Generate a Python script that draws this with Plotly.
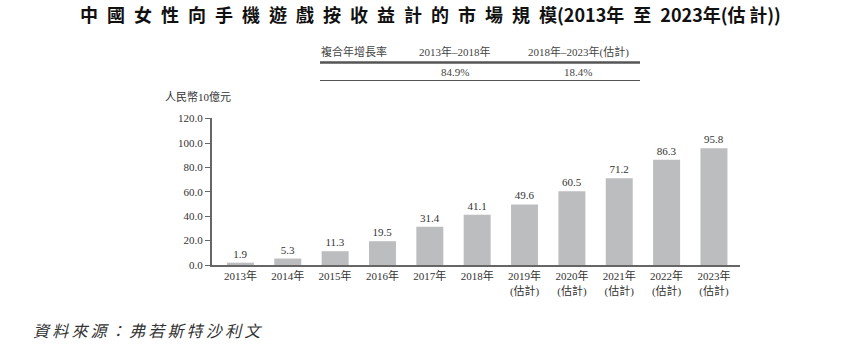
import plotly.graph_objects as go

years = ["2013年", "2014年", "2015年", "2016年", "2017年", "2018年",
         "2019年<br>(估計)", "2020年<br>(估計)", "2021年<br>(估計)",
         "2022年<br>(估計)", "2023年<br>(估計)"]
values = [1.9, 5.3, 11.3, 19.5, 31.4, 41.1, 49.6, 60.5, 71.2, 86.3, 95.8]
value_labels = [f"{v:.1f}" for v in values]
y_ticks = [0, 20, 40, 60, 80, 100, 120]
y_tick_labels = [f"{t:.1f}" for t in y_ticks]

cagr_header = ["複合年增長率", "2013年–2018年", "2018年–2023年(估計)"]
cagr_values = ["", "84.9%", "18.4%"]

title_main = "中國女性向手機遊戲按收益計的市場規模"
title_tail = "(2013年\u2002至\u20022023年(估\u2009計))"
source = "資料來源：弗若斯特沙利文"

serif = "Liberation Serif, Noto Sans CJK TC, serif"
cjk = "Noto Sans CJK TC, sans-serif"

fig = go.Figure()
fig.add_trace(go.Bar(
    x=list(range(len(years))), y=values,
    marker=dict(color="#bcbdbf", line=dict(width=0)),
    width=0.57,
    text=value_labels, textposition="outside",
    textfont=dict(family=serif, size=11, color="#333333"),
    cliponaxis=False,
))

fig.update_layout(
    width=864, height=354,
    margin=dict(l=212, r=124, t=118, b=89),
    plot_bgcolor="white", paper_bgcolor="white",
    showlegend=False,
    xaxis=dict(
        tickmode="array", tickvals=list(range(len(years))), ticktext=years,
        range=[-0.6, 10.55], showline=True, linecolor="#666666", linewidth=2,
        ticks="", tickfont=dict(family=serif, size=11, color="#333333"),
        showgrid=False, zeroline=False,
    ),
    yaxis=dict(
        tickmode="array", tickvals=y_ticks, ticktext=y_tick_labels,
        range=[0, 120.5], showline=True, linecolor="#666666", linewidth=2,
        ticks="outside", ticklen=5, tickcolor="#666666",
        tickfont=dict(family=serif, size=11, color="#333333"),
        showgrid=False, zeroline=False,
    ),
)

sp = "\u2002"
title_text = "<b>" + sp.join(list(title_main)) + title_tail + "</b>"
ann = [
    dict(text=title_text, x=430, y=14, font=dict(family=cjk, size=18, color="#111111")),
    dict(text="人民幣10億元", x=198, y=97, font=dict(family=serif, size=11, color="#333333")),
    dict(text="<i>" + "\u2009".join(list(source)) + "</i>", x=147, y=330,
         font=dict(family=cjk, size=16, color="#333333")),
]
hx = [354, 455, 578]
for i, h in enumerate(cagr_header):
    ann.append(dict(text=h, x=hx[i], y=52, font=dict(family=serif, size=11, color="#444444")))
    if cagr_values[i]:
        ann.append(dict(text=cagr_values[i], x=hx[i], y=72, font=dict(family=serif, size=11, color="#444444")))

for a in ann:
    a.update(xref="paper", yref="paper", showarrow=False, xanchor="center", yanchor="middle")
    a["x"] = (a["x"] - 212) / (864 - 212 - 124)
    a["y"] = 1 - (a["y"] - 118) / (354 - 118 - 89)
fig.update_layout(annotations=ann)

def px_to_paper(x, y):
    return (x - 212) / 528, 1 - (y - 118) / 147

x0, y0 = px_to_paper(320, 62.5)
x1, _ = px_to_paper(640, 62.5)
fig.add_shape(type="line", xref="paper", yref="paper", x0=x0, x1=x1, y0=y0, y1=y0,
              line=dict(color="#555555", width=2.5))
_, y2 = px_to_paper(320, 80.5)
fig.add_shape(type="line", xref="paper", yref="paper", x0=x0, x1=x1, y0=y2, y1=y2,
              line=dict(color="#555555", width=1.2))

fig.write_html("out.html")
